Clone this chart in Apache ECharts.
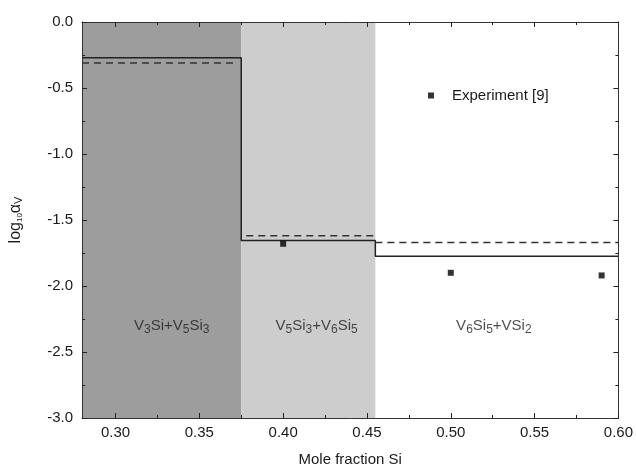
<!DOCTYPE html>
<html>
<head>
<meta charset="utf-8">
<script src="https://cdn.jsdelivr.net/npm/echarts@6/dist/echarts.min.js"></script>
<style>html,body{margin:0;padding:0;background:#fff}#c{width:636px;height:472px}</style>
</head>
<body>
<div id="c"></div>
<script>
// ---- data ----
const xMajorTicks = [0.30, 0.35, 0.40, 0.45, 0.50, 0.55, 0.60];
const xMinorTicks = [0.325, 0.375, 0.425, 0.475, 0.525, 0.575];
const yTickInterval = 0.5;
const xRange = [0.28, 0.60];
const yRange = [-3.0, 0.0];

const phaseBounds = [[0.28, 0.375], [0.375, 0.455]];
const phaseColors = ['#9d9d9d', '#cdcdcd'];
const phaseLabels = ['V{s|3}Si+V{s|5}Si{s|3}', 'V{s|5}Si{s|3}+V{s|6}Si{s|5}', 'V{s|6}Si{s|5}+VSi{s|2}'];
const phaseLabelX = [0.3335, 0.420, 0.5257];
const phaseLabelY = [-2.30, -2.30, -2.30];

const solidX = [0.28, 0.375, 0.375, 0.455, 0.455, 0.60];
const solidY = [-0.27, -0.27, -1.655, -1.655, -1.775, -1.775];

const dashedSegX = [[0.28, 0.372], [0.378, 0.455], [0.455, 0.60]];
const dashedSegY = [[-0.31, -0.31], [-1.62, -1.62], [-1.67, -1.67]];

const expName = 'Experiment [9]';
const expX = [0.40, 0.50, 0.59];
const expY = [-1.68, -1.90, -1.92];

// ---- chart ----
const FONT = 'Liberation Sans, Arial, sans-serif';
const TXT = '#1a1a1a';
const chart = echarts.init(document.getElementById('c'), null, {renderer: 'canvas'});

const zip = (a, b) => a.map((v, i) => [v, b[i]]);

const series = [];
// background phase regions
series.push({
  type: 'line', data: [], silent: true,
  markArea: {
    silent: true, z: -10,
    data: phaseBounds.map((b, i) => [
      {xAxis: b[0], itemStyle: {color: phaseColors[i], opacity: 1}},
      {xAxis: b[1]}
    ]),
    label: {show: false}
  },
  z: -10
});
// phase labels
series.push({
  type: 'scatter', symbolSize: 0, silent: true, z: 5,
  data: zip(phaseLabelX, phaseLabelY).map((p, i) => ({value: p, name: phaseLabels[i]})),
  label: {
    show: true, position: 'inside',
    formatter: p => '{n|' + p.name.replace(/\{s\|([^}]*)\}/g, '}{s|$1}{n|') + '}',
    rich: {
      n: {fontSize: 15, fontFamily: FONT, color: '#1e1e1e', lineHeight: 20},
      s: {fontSize: 12, fontFamily: FONT, color: '#1e1e1e', lineHeight: 13, verticalAlign: 'bottom'}
    }
  }
});
// solid line
series.push({
  type: 'line', name: 'calc', data: zip(solidX, solidY), symbol: 'none',
  lineStyle: {color: '#222', width: 1.5}, z: 3, silent: true
});
// dashed segments
dashedSegX.forEach((xs, i) => {
  series.push({
    type: 'line', data: zip(xs, dashedSegY[i]), symbol: 'none', silent: true,
    lineStyle: {color: '#333', width: 1.5, type: [7, 5]}, z: 3
  });
});
// experiment points
series.push({
  type: 'scatter', name: expName, data: zip(expX, expY), symbol: 'rect', symbolSize: 6,
  itemStyle: {color: '#000'}, z: 4
});

const lineOn = () => ({show: true, onZero: false, lineStyle: {color: '#333', width: 1}});
const lineOff = () => ({show: false, onZero: false});
const tickStyle = () => ({color: '#222', width: 1});
const fmtX = v => v.toFixed(2);

const xAx = (pos, vals, len, withLine, extra) => Object.assign({
  type: 'value', min: xRange[0], max: xRange[1], position: pos, z: 10,
  axisLine: withLine ? lineOn() : lineOff(),
  axisTick: {show: true, inside: true, length: len, customValues: vals, lineStyle: tickStyle()},
  axisLabel: {show: false}, splitLine: {show: false}
}, extra || {});

const option = {
  animation: false,
  backgroundColor: '#fff',
  grid: {left: 82, right: 16, top: 22, bottom: 51, containLabel: false},
  legend: {
    data: [{name: expName, icon: 'rect'}],
    left: 423, top: 83, itemWidth: 6, itemHeight: 6, itemGap: 0,
    textStyle: {fontSize: 15, fontFamily: FONT, color: TXT, padding: [0, 0, 0, 13]},
    selectedMode: false
  },
  xAxis: [
    xAx('bottom', xMajorTicks, 5, true, {
      name: 'Mole fraction Si', nameLocation: 'middle', nameGap: 34,
      nameTextStyle: {fontSize: 15, fontFamily: FONT, color: TXT},
      axisLabel: {show: true, customValues: xMajorTicks, formatter: fmtX, margin: 7,
        fontSize: 15, fontFamily: FONT, color: TXT}
    }),
    xAx('bottom', xMinorTicks, 3, false),
    xAx('top', xMajorTicks, 5, true),
    xAx('top', xMinorTicks, 3, false)
  ],
  yAxis: [
    {
      type: 'value', min: yRange[0], max: yRange[1], interval: yTickInterval, position: 'left', z: 10,
      name: 'log{s10|10}α{sv|V}', nameLocation: 'middle', nameGap: 58, nameRotate: 90,
      nameTextStyle: {
        fontSize: 16, fontFamily: FONT, color: TXT,
        rich: {
          s10: {fontSize: 8, fontFamily: FONT, color: TXT, verticalAlign: 'bottom', lineHeight: 10},
          sv: {fontSize: 11, fontFamily: FONT, color: TXT, verticalAlign: 'bottom', lineHeight: 12}
        }
      },
      axisLine: lineOn(),
      axisTick: {show: true, inside: true, length: 5, lineStyle: tickStyle()},
      minorTick: {show: true, splitNumber: 2, length: 3, lineStyle: tickStyle()},
      axisLabel: {formatter: v => v.toFixed(1), margin: 9, fontSize: 15, fontFamily: FONT, color: TXT},
      splitLine: {show: false}, minorSplitLine: {show: false}
    },
    {
      type: 'value', min: yRange[0], max: yRange[1], interval: yTickInterval, position: 'right', z: 10,
      axisLine: lineOn(),
      axisTick: {show: true, inside: true, length: 5, lineStyle: tickStyle()},
      minorTick: {show: true, splitNumber: 2, length: 3, lineStyle: tickStyle()},
      axisLabel: {show: false}, splitLine: {show: false}
    }
  ],
  series: series
};
chart.setOption(option);
</script>
</body>
</html>
